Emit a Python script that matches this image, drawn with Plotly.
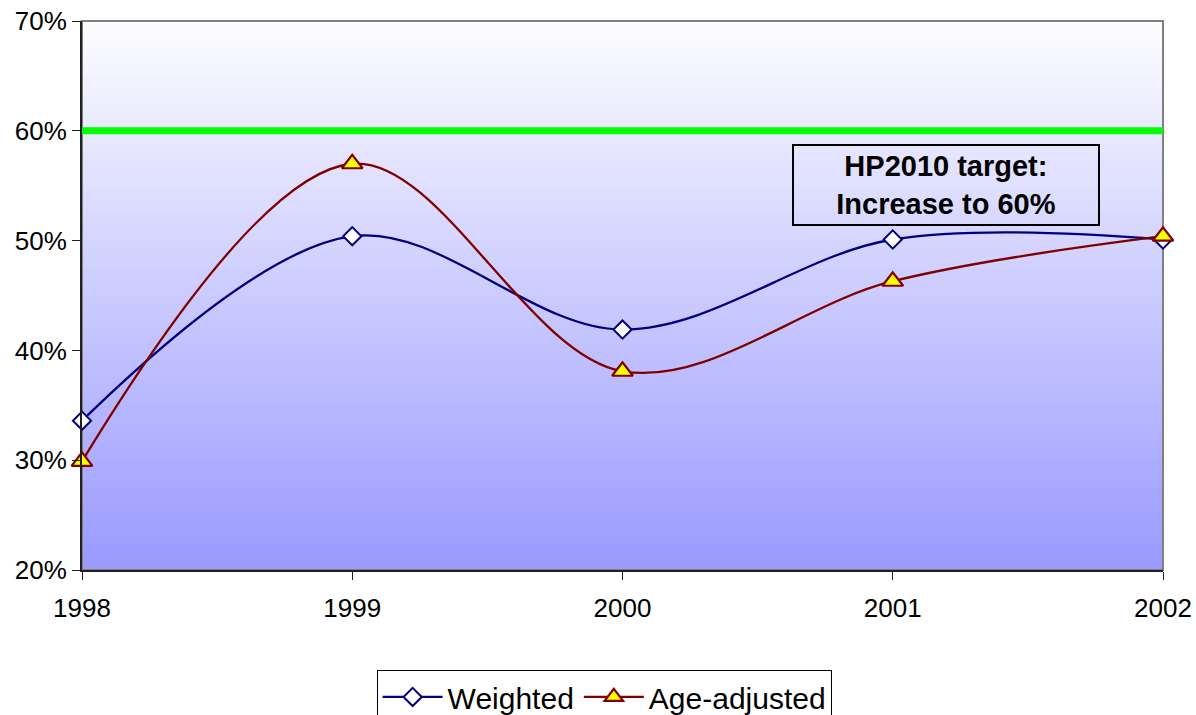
import plotly.graph_objects as go

years = [1998, 1999, 2000, 2001, 2002]
weighted = [0.336, 0.504, 0.419, 0.501, 0.501]
age_adjusted = [0.299, 0.570, 0.381, 0.463, 0.504]
target = 0.60
y_ticks = [0.2, 0.3, 0.4, 0.5, 0.6, 0.7]
y_tick_labels = ["20%", "30%", "40%", "50%", "60%", "70%"]

FONT = "Liberation Sans, Arial, sans-serif"

fig = go.Figure()

fig.add_trace(go.Scatter(
    x=years, y=weighted, name="Weighted", mode="lines+markers",
    line=dict(color="#000080", width=2.3, shape="spline", smoothing=1),
    marker=dict(symbol="diamond", size=14, color="white",
                line=dict(color="#000080", width=2)),
    cliponaxis=False,
))
fig.add_trace(go.Scatter(
    x=years, y=age_adjusted, name="Age-adjusted", mode="lines+markers",
    line=dict(color="#800000", width=2.3, shape="spline", smoothing=1),
    marker=dict(symbol="triangle-up", size=18, color="#ffff00",
                line=dict(color="#800000", width=2.2)),
    cliponaxis=False,
))

# gradient background (top near-white to bottom periwinkle)
shapes = []
n = 80
top = (253, 253, 255)
bot = (153, 153, 255)
for i in range(n):
    t = (i + 0.5) / n
    r = round(top[0] + (bot[0] - top[0]) * t)
    g = round(top[1] + (bot[1] - top[1]) * t)
    b = round(top[2] + (bot[2] - top[2]) * t)
    shapes.append(dict(type="rect", xref="paper", yref="paper",
                       x0=0, x1=1, y0=max(0, 1 - (i + 1) / n - 0.002), y1=1 - i / n,
                       fillcolor=f"rgb({r},{g},{b})", line=dict(width=0),
                       layer="below"))
# gray frame
shapes.append(dict(type="rect", xref="paper", yref="paper", x0=0, x1=1, y0=0, y1=1,
                   line=dict(color="#808080", width=2), layer="below"))
# target line
shapes.append(dict(type="line", xref="paper", yref="y", x0=0, x1=1,
                   y0=target, y1=target, line=dict(color="#00ff00", width=7),
                   layer="above"))

fig.update_layout(
    width=1196, height=715,
    margin=dict(l=82, r=33, t=21, b=145, autoexpand=False),
    paper_bgcolor="white", plot_bgcolor="white",
    font=dict(family=FONT, color="black", size=26),
    shapes=shapes,
    showlegend=True,
    legend=dict(orientation="h", x=0.483, xanchor="center", y=-0.182, yanchor="top",
                bordercolor="black", borderwidth=1, bgcolor="white",
                font=dict(size=30, family=FONT), itemwidth=60, tracegroupgap=0),
    annotations=[dict(
        x=0.799, y=0.701, xref="paper", yref="paper", xanchor="center", yanchor="middle",
        text="<b>HP2010 target:<br>Increase to 60%</b>", showarrow=False,
        font=dict(size=29, family=FONT, color="black"),
        bordercolor="black", borderwidth=2, borderpad=4, width=296,
        bgcolor="rgba(0,0,0,0)", align="center",
    )],
)

fig.update_xaxes(range=[1998, 2002], tickvals=years, ticktext=[str(y) for y in years],
                 showgrid=False, zeroline=False, showline=True, linecolor="#202020",
                 linewidth=2, ticks="outside", ticklen=8, tickcolor="#202020",
                 tickfont=dict(size=26), ticklabelstandoff=6, automargin=False)
fig.update_yaxes(range=[0.2, 0.7], tickvals=y_ticks, ticktext=y_tick_labels,
                 showgrid=False, zeroline=False, showline=True, linecolor="#202020",
                 linewidth=2, ticks="outside", ticklen=8, tickcolor="#202020",
                 tickfont=dict(size=26), automargin=False)

fig.write_html("out.html", config={"displayModeBar": False},
               post_script="document.body.style.margin='0';document.body.style.overflow='hidden';")
